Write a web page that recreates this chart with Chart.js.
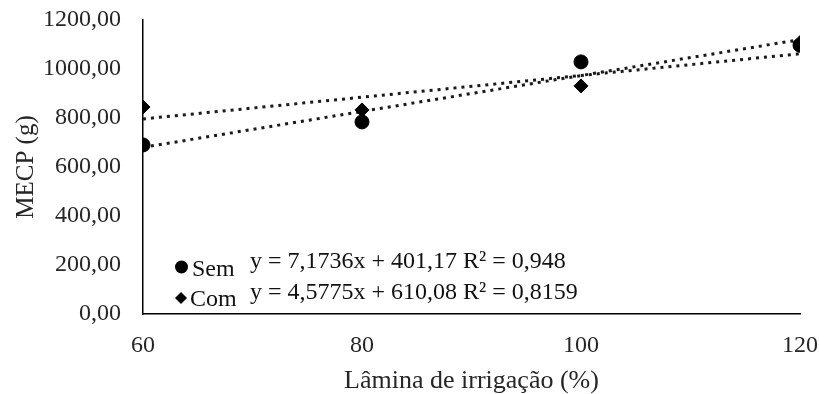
<!DOCTYPE html>
<html>
<head>
<meta charset="utf-8">
<script src="https://cdn.jsdelivr.net/npm/chart.js@4"></script>
<style>
html,body{margin:0;padding:0;background:#fff;}
#wrap{width:819px;height:394px;position:relative;}
</style>
</head>
<body>
<div id="wrap"><canvas id="c" width="819" height="394"></canvas></div>
<script>
// ---- data ----
const xValues = [60, 80, 100, 120];
const semValues = [690, 784, 1029, 1097];
const comValues = [845, 833, 931, 1108];
const seriesNames = ['Sem', 'Com'];
const equationLabels = ['y = 7,1736x + 401,17 R² = 0,948', 'y = 4,5775x + 610,08 R² = 0,8159'];
const xTickLabels = ['60', '80', '100', '120'];
const yTickLabels = ['0,00', '200,00', '400,00', '600,00', '800,00', '1000,00', '1200,00'];
const xTitle = 'Lâmina de irrigação (%)';
const yTitle = 'MECP (g)';

function pts(xs, ys){ return xs.map((x,i)=>({x:x, y:ys[i]})); }
function linearFit(xs, ys){
  const n = xs.length;
  const mx = xs.reduce((a,b)=>a+b,0)/n, my = ys.reduce((a,b)=>a+b,0)/n;
  let sxy=0, sxx=0;
  for(let i=0;i<n;i++){ sxy+=(xs[i]-mx)*(ys[i]-my); sxx+=(xs[i]-mx)*(xs[i]-mx); }
  const b = sxy/sxx, a = my - b*mx;
  const x0 = xs[0], x1 = xs[n-1];
  return [{x:x0, y:a+b*x0}, {x:x1, y:a+b*x1}];
}

const FONT = "'Liberation Serif','Times New Roman',serif";
const TXT = '#262626';

const legendPlugin = {
  id: 'eqLegend',
  afterDatasetsDraw(chart){
    const ctx = chart.ctx;
    const left = chart.chartArea.left;
    ctx.save();
    ctx.fillStyle = '#000';
    // Sem marker
    ctx.beginPath(); ctx.arc(left+38.5, 267, 6.5, 0, Math.PI*2); ctx.fill();
    // Com marker
    ctx.beginPath();
    const dx = left+38, dy = 298;
    ctx.moveTo(dx, dy-6); ctx.lineTo(dx+6, dy); ctx.lineTo(dx, dy+6); ctx.lineTo(dx-6, dy); ctx.closePath(); ctx.fill();
    ctx.font = '24px ' + FONT;
    ctx.textBaseline = 'alphabetic';
    ctx.fillStyle = '#111';
    ctx.fillText(seriesNames[0], left+49, 276);
    ctx.fillText(seriesNames[1], left+47, 306);
    ctx.fillText(equationLabels[0], left+107, 268);
    ctx.fillText(equationLabels[1], left+107, 299);
    ctx.restore();
  }
};

new Chart(document.getElementById('c'), {
  type: 'scatter',
  data: {
    datasets: [
      { label: seriesNames[0], data: pts(xValues, semValues), pointStyle: 'circle', pointRadius: 7,
        backgroundColor: '#000', borderColor: '#000', showLine: false },
      { label: seriesNames[1], data: pts(xValues, comValues), pointStyle: 'rectRot', pointRadius: 7,
        backgroundColor: '#000', borderColor: '#000', showLine: false },
      { label: 'Linear (Sem)', data: linearFit(xValues, semValues), showLine: true, pointRadius: 0,
        borderColor: '#1a1a1a', borderWidth: 3, borderDash: [3,5], fill: false },
      { label: 'Linear (Com)', data: linearFit(xValues, comValues), showLine: true, pointRadius: 0,
        borderColor: '#1a1a1a', borderWidth: 3, borderDash: [3,5], fill: false }
    ]
  },
  options: {
    responsive: false,
    animation: false,
    devicePixelRatio: 1,
    layout: { padding: { left: 0, right: 19, top: 20, bottom: 0 } },
    plugins: { legend: { display: false }, tooltip: { enabled: false } },
    scales: {
      x: {
        type: 'linear', min: 60, max: 120,
        grid: { display: false, drawTicks: false },
        border: { display: true, color: '#000', width: 1.5 },
        afterBuildTicks(axis){ axis.ticks = xValues.map(v=>({value:v})); },
        afterFit(axis){ axis.height = 80; axis.paddingLeft = 0; axis.paddingRight = 0; },
        ticks: { padding: 17, color: TXT, font: { family: FONT, size: 24 },
          callback: (v) => xTickLabels[xValues.indexOf(v)] },
        title: { display: true, text: xTitle, color: TXT, font: { family: FONT, size: 26, lineHeight: 1 }, padding: { top: 0, bottom: 0 } }
      },
      y: {
        min: 0, max: 1200,
        grid: { display: false, drawTicks: false },
        border: { display: true, color: '#000', width: 1.5 },
        afterBuildTicks(axis){ axis.ticks = yTickLabels.map((t,i)=>({value:i*200})); },
        afterFit(axis){ axis.width = 143; axis.paddingTop = 0; axis.paddingBottom = 0; },
        ticks: { padding: 22, color: TXT, font: { family: FONT, size: 24 },
          callback: (v) => yTickLabels[v/200] },
        title: { display: true, text: yTitle, color: TXT, font: { family: FONT, size: 25, lineHeight: 1 }, padding: { bottom: 0, top: 14 } }
      }
    }
  },
  plugins: [legendPlugin]
});
</script>
</body>
</html>
